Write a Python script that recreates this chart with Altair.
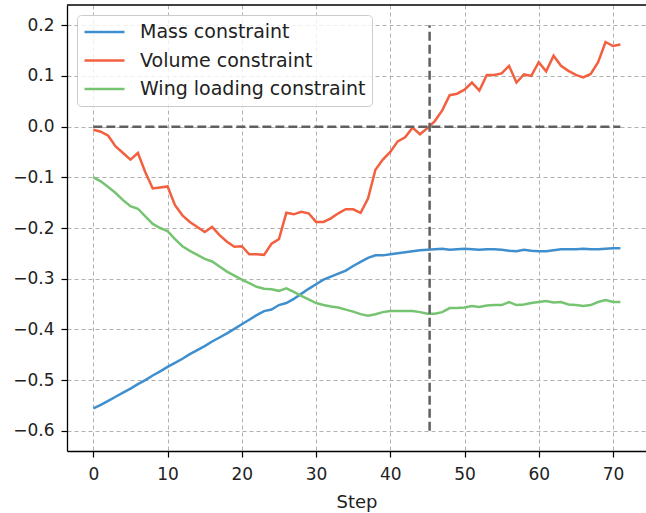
import altair as alt
import pandas as pd

steps = list(range(72))

mass = [-0.556, -0.549, -0.541, -0.533, -0.525, -0.517, -0.508, -0.500, -0.491, -0.483,
        -0.474, -0.466, -0.458, -0.449, -0.441, -0.433, -0.424, -0.416, -0.408, -0.399,
        -0.390, -0.381, -0.372, -0.364, -0.361, -0.352, -0.348, -0.340, -0.330, -0.320,
        -0.311, -0.302, -0.296, -0.290, -0.284, -0.275, -0.267, -0.259, -0.254, -0.254,
        -0.252, -0.250, -0.248, -0.246, -0.244, -0.243, -0.242, -0.241, -0.243, -0.242,
        -0.241, -0.242, -0.243, -0.242, -0.242, -0.243, -0.245, -0.246, -0.243, -0.245,
        -0.246, -0.246, -0.244, -0.242, -0.242, -0.242, -0.241, -0.242, -0.242, -0.241,
        -0.240, -0.240]

volume = [-0.006, -0.010, -0.018, -0.039, -0.052, -0.065, -0.052, -0.090, -0.122, -0.120,
          -0.118, -0.155, -0.175, -0.188, -0.198, -0.208, -0.198, -0.214, -0.227, -0.237,
          -0.236, -0.252, -0.252, -0.253, -0.231, -0.222, -0.170, -0.173, -0.168, -0.171,
          -0.188, -0.188, -0.181, -0.171, -0.163, -0.163, -0.170, -0.142, -0.085, -0.065,
          -0.050, -0.029, -0.021, -0.002, -0.015, -0.003, 0.011, 0.032, 0.062, 0.065,
          0.073, 0.087, 0.071, 0.102, 0.102, 0.105, 0.120, 0.087, 0.103, 0.100,
          0.127, 0.109, 0.140, 0.120, 0.110, 0.102, 0.097, 0.104, 0.127, 0.167,
          0.159, 0.162]

wing = [-0.100, -0.108, -0.119, -0.131, -0.145, -0.157, -0.162, -0.177, -0.192, -0.200,
        -0.206, -0.222, -0.236, -0.245, -0.253, -0.261, -0.266, -0.276, -0.286, -0.294,
        -0.302, -0.309, -0.316, -0.320, -0.321, -0.324, -0.319, -0.326, -0.334, -0.341,
        -0.348, -0.352, -0.355, -0.357, -0.361, -0.365, -0.370, -0.373, -0.370, -0.366,
        -0.364, -0.364, -0.364, -0.364, -0.366, -0.369, -0.369, -0.366, -0.358, -0.358,
        -0.357, -0.354, -0.356, -0.353, -0.352, -0.352, -0.346, -0.352, -0.351, -0.348,
        -0.346, -0.344, -0.347, -0.346, -0.351, -0.352, -0.354, -0.352, -0.346, -0.342,
        -0.346, -0.346]

series_names = ["Mass constraint", "Volume constraint", "Wing loading constraint"]
series_colors = ["#3f8fcf", "#f2603f", "#76c472"]

x_ticks = [0, 10, 20, 30, 40, 50, 60, 70]
y_ticks = [-0.6, -0.5, -0.4, -0.3, -0.2, -0.1, 0.0, 0.1, 0.2]

hline = pd.DataFrame({"x": [0], "x2": [71], "y": [0.0]})
vline = pd.DataFrame({"x": [45.3], "y": [-0.6], "y2": [0.2]})

rows = []
for name, vals in zip(series_names, [mass, volume, wing]):
    for s, v in zip(steps, vals):
        rows.append({"Step": s, "value": v, "series": name})
df = pd.DataFrame(rows)

FONT = "DejaVu Sans"
xscale = alt.Scale(domain=[-3.55, 74.45], nice=False, zero=False)
yscale = alt.Scale(domain=[-0.64, 0.24], nice=False, zero=False)

ylabel_expr = ("(datum.value < -0.00001 ? '\u2212' : '') + "
               "format(abs(datum.value), '.1f')")

lines = alt.Chart(df).mark_line(strokeWidth=2.5).encode(
    x=alt.X("Step:Q", scale=xscale,
            axis=alt.Axis(values=x_ticks, title="Step", format="d")),
    y=alt.Y("value:Q", scale=yscale,
            axis=alt.Axis(values=y_ticks, title=None, labelExpr=ylabel_expr)),
    color=alt.Color("series:N",
                    scale=alt.Scale(domain=series_names, range=series_colors),
                    legend=alt.Legend(orient="none", legendX=10, legendY=10, title=None,
                                      symbolType="stroke", symbolSize=1600,
                                      symbolStrokeWidth=2.5, clipHeight=22,
                                      rowPadding=6.5, labelFontSize=19, labelOffset=14,
                                      padding=6, cornerRadius=4, strokeColor="#cccccc",
                                      fillColor="rgba(255,255,255,0.8)",
                                      labelColor="#222222", labelFont=FONT,
                                      labelLimit=400)),
    order=alt.Order("Step:Q"),
)

h = alt.Chart(hline).mark_rule(color="#606060", strokeWidth=2.5, strokeDash=[9, 4]).encode(
    x=alt.X("x:Q", scale=xscale), x2="x2:Q", y=alt.Y("y:Q", scale=yscale))
v = alt.Chart(vline).mark_rule(color="#606060", strokeWidth=2.5, strokeDash=[9, 4]).encode(
    x=alt.X("x:Q", scale=xscale), y=alt.Y("y:Q", scale=yscale), y2="y2:Q")

# top edge of the frame (the right edge lies outside the picture)
top_edge = alt.Chart(hline).mark_rule(color="black", strokeWidth=1.3).encode(
    y=alt.value(0), x=alt.value(0), x2=alt.value(620))

chart = alt.layer(lines, h, v, top_edge).properties(
    width=579, height=446,
    autosize=alt.AutoSizeParams(type="none"),
    padding={"left": 67, "top": 5, "right": 0, "bottom": 62},
).configure_view(
    strokeWidth=0
).configure_axis(
    grid=True, gridColor="#b0b0b0", gridDash=[4, 3], gridWidth=1,
    domain=True, domainColor="black", domainWidth=1.3,
    tickColor="black", tickWidth=1.2, tickSize=6,
    labelFont=FONT, labelFontSize=17, labelColor="#222222", labelPadding=5,
    titleFont=FONT, titleFontSize=18, titleFontWeight="normal", titleColor="#222222",
).configure_axisX(
    titlePadding=11, labelPadding=9,
).configure_axisY(
    labelPadding=7,
)

chart.save("out.html", embed_options={"renderer": "svg", "actions": False})
